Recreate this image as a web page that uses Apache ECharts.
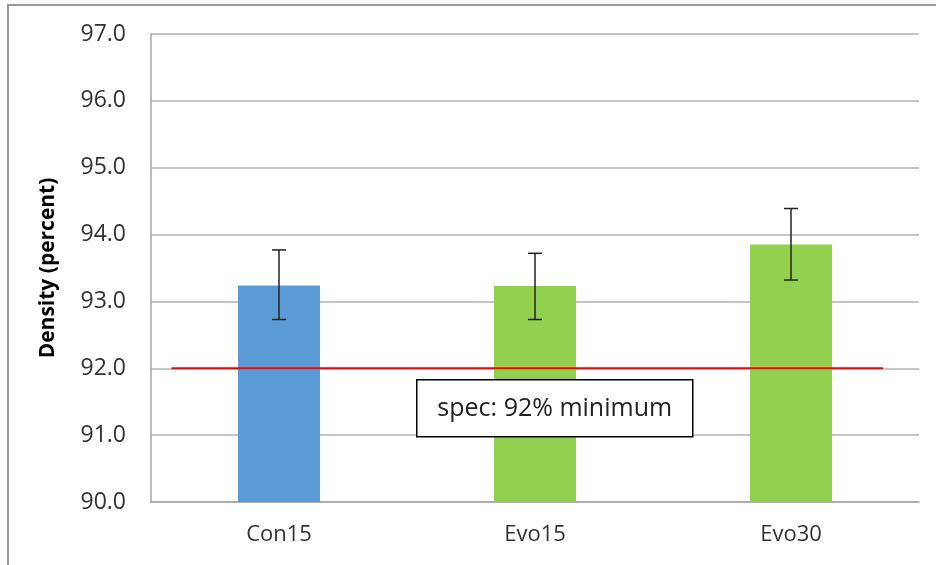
<!DOCTYPE html>
<html>
<head>
<meta charset="utf-8">
<script src="https://cdn.jsdelivr.net/npm/echarts@6/dist/echarts.min.js"></script>
<style>
  html, body { margin: 0; padding: 0; background: #fff; }
  #chart { width: 936px; height: 565px; }
</style>
</head>
<body>
<div id="chart"></div>
<script>
var categories = ['Con15', 'Evo15', 'Evo30'];
var densities  = [93.24, 93.23, 93.85];
var errLow     = [92.73, 92.73, 93.32];
var errHigh    = [93.77, 93.72, 94.39];
var barColors  = ['#5B9BD5', '#92D050', '#92D050'];
var specValue  = 92;
var specRange  = [-0.42, 2.36];   // where the spec line starts/ends, in category units
var specText   = 'spec: 92% minimum';

var font = '"Open Sans", "Noto Sans", sans-serif';
var chart = echarts.init(document.getElementById('chart'));

var barData = densities.map(function(v, i) {
  return { value: v, itemStyle: { color: barColors[i] } };
});
var errData = categories.map(function(c, i) {
  return [i, errLow[i], errHigh[i]];
});

chart.setOption({
  animation: false,
  grid: { left: 151, right: 17, top: 34, bottom: 63 },
  xAxis: [
    {
      type: 'category',
      data: categories,
      axisLine: { lineStyle: { color: '#a6a6a6', width: 1.5 } },
      axisTick: { show: false },
      axisLabel: { color: '#333', fontSize: 22, fontFamily: font, margin: 22 }
    },
    {
      type: 'value', min: -0.5, max: 2.5, show: false
    }
  ],
  yAxis: {
    type: 'value',
    min: 90, max: 97, interval: 1,
    name: 'Density (percent)',
    nameLocation: 'middle',
    nameGap: 92,
    nameTextStyle: { color: '#000', fontSize: 21, fontWeight: 'bold', fontFamily: font },
    axisLine: { show: true, onZero: false, lineStyle: { color: '#a6a6a6', width: 1.5 } },
    axisTick: { show: false },
    axisLabel: {
      color: '#333', fontSize: 23, fontFamily: font, margin: 25,
      formatter: function(v) { return v.toFixed(1); }
    },
    splitLine: { lineStyle: { color: '#b3b3b3', width: 1.5 } }
  },
  series: [
    {
      type: 'bar',
      data: barData,
      barWidth: 82
    },
    {
      type: 'custom',
      data: errData,
      z: 5,
      renderItem: function(params, api) {
        var x = api.value(0);
        var lo = api.coord([x, api.value(1)]);
        var hi = api.coord([x, api.value(2)]);
        var cap = 7;
        var st = { stroke: '#222', lineWidth: 1.5 };
        return {
          type: 'group',
          children: [
            { type: 'line', shape: { x1: lo[0], y1: lo[1], x2: hi[0], y2: hi[1] }, style: st },
            { type: 'line', shape: { x1: hi[0] - cap, y1: hi[1], x2: hi[0] + cap, y2: hi[1] }, style: st },
            { type: 'line', shape: { x1: lo[0] - cap, y1: lo[1], x2: lo[0] + cap, y2: lo[1] }, style: st }
          ]
        };
      }
    },
    {
      type: 'line',
      xAxisIndex: 1,
      data: [[specRange[0], specValue], [specRange[1], specValue]],
      symbol: 'none',
      lineStyle: { color: '#ff0000', width: 2 },
      z: 6
    }
  ],
  graphic: [
    {
      type: 'polyline',
      shape: { points: [[8, 570], [8, 5], [940, 5]] },
      style: { stroke: '#999', lineWidth: 2, fill: null }
    },
    {
      type: 'group',
      left: 416, top: 379,
      children: [
        {
          type: 'rect',
          z: 100,
          shape: { x: 0, y: 0, width: 276, height: 57 },
          style: { fill: '#fff', stroke: '#000', lineWidth: 1.5 }
        },
        {
          type: 'text',
          z: 101,
          style: {
            x: 138, y: 29, text: specText,
            align: 'center', verticalAlign: 'middle',
            fill: '#222', fontSize: 25, fontFamily: font
          }
        }
      ]
    }
  ]
});
</script>
</body>
</html>
